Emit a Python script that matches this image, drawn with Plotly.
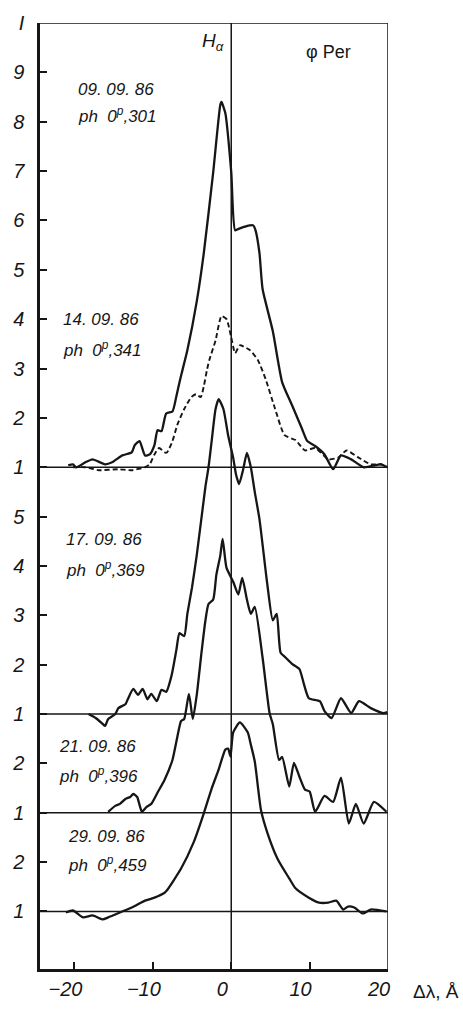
import plotly.graph_objects as go

# H-alpha profiles of phi Per; wavelength offset (A) and relative intensity I
dl_0909 = [-20.8, -20.2, -19.8, -18.6, -17.7, -16.1, -15.2, -13.9, -12.7, -12.3, -11.7, -11.0, -10.4,
           -9.8, -9.4, -8.9, -8.3, -7.5, -7.0, -6.6, -6.3, -5.6, -4.4, -3.5, -2.3, -1.4, -1.25, -0.75,
           0.0, 0.5, 1.1, 2.4, 2.8, 3.1, 3.6, 4.0, 5.3, 6.5, 7.8, 9.0, 9.7, 10.7, 11.9, 13.0, 14.0,
           15.3, 16.9, 19.1, 19.9]
i_0909 = [1.04, 1.06, 1.00, 1.10, 1.16, 1.06, 1.10, 1.24, 1.30, 1.45, 1.53, 1.24, 1.26,
          1.45, 1.75, 1.73, 2.09, 2.13, 2.44, 2.72, 2.92, 3.37, 4.36, 5.34, 6.98, 8.34, 8.40, 8.17,
          6.98, 5.80, 5.84, 5.90, 5.90, 5.80, 5.34, 4.61, 3.76, 2.72, 2.24, 1.79, 1.53, 1.43, 1.26,
          0.96, 1.24, 1.16, 1.00, 1.06, 1.00]

dl_1409 = [-20.2, -18.6, -16.9, -14.4, -12.7, -11.0, -10.4, -9.8, -9.2, -8.5, -8.2, -7.5, -6.9,
           -6.0, -5.1, -4.5, -3.9, -3.5, -3.1, -2.8, -2.0, -1.25, -0.6, 0.0, 0.5, 1.1, 2.4, 3.4,
           4.4, 5.6, 6.8, 8.2, 9.4, 10.7, 12.4, 13.7, 14.7, 16.2, 17.8, 19.1, 19.9]
i_1409 = [1.00, 1.00, 0.94, 0.96, 0.94, 1.00, 1.06, 1.26, 1.39, 1.30, 1.30, 1.53, 1.85,
          2.18, 2.42, 2.48, 2.42, 2.64, 2.97, 3.17, 3.57, 4.06, 4.00, 3.63, 3.31, 3.47, 3.37, 3.17,
          2.78, 2.18, 1.65, 1.55, 1.34, 1.39, 1.16, 1.20, 1.34, 1.20, 1.06, 1.06, 1.00]

dl_1709 = [-18.2, -17.3, -16.4, -16.1, -15.7, -14.8, -14.4, -13.5, -13.2, -12.5, -11.9, -11.3,
           -10.7, -10.2, -9.5, -8.9, -8.3, -7.6, -7.0, -6.6, -6.0, -5.6, -5.0, -4.4, -3.3, -2.9,
           -2.5, -2.0, -1.6, -1.0, -0.4, 0.25, 0.6, 1.0, 1.5, 2.0, 2.5, 3.0, 3.6, 4.6, 5.3, 5.8,
           6.3, 6.9, 7.8, 8.7, 9.3, 9.9, 11.3, 11.9, 12.8, 14.0, 15.3, 16.3, 17.8, 19.4, 19.9]
i_1709 = [1.00, 0.92, 0.80, 0.76, 0.90, 1.00, 1.12, 1.20, 1.30, 1.51, 1.39, 1.51,
          1.30, 1.41, 1.26, 1.49, 1.45, 1.79, 2.30, 2.64, 2.58, 3.03, 3.57, 4.22, 5.60, 6.00,
          6.53, 7.18, 7.38, 7.18, 6.65, 6.19, 5.86, 5.66, 5.94, 6.29, 6.00, 5.50, 4.95, 3.63, 2.90,
          3.03, 2.24, 2.15, 2.01, 1.91, 1.59, 1.32, 1.26, 1.06, 0.92, 1.32, 1.02, 1.26, 1.12, 1.02,
          1.04]

dl_2109 = [-15.7, -14.8, -14.2, -13.5, -12.9, -12.5, -12.0, -11.4, -10.8, -10.2, -9.4, -8.5,
           -7.5, -6.9, -6.4, -6.0, -5.4, -4.9, -4.4, -3.8, -3.3, -2.9, -2.3, -1.9, -1.4, -1.1,
           -0.6, 0.25, 0.9, 1.4, 2.0, 2.5, 3.0, 4.0, 4.9, 5.3, 6.1, 6.5, 7.4, 8.0, 8.7, 9.4, 10.0,
           10.7, 11.9, 13.0, 14.0, 15.0, 15.9, 16.9, 18.2, 19.8]
i_2109 = [1.02, 1.14, 1.18, 1.28, 1.32, 1.38, 1.32, 1.02, 1.12, 1.18, 1.41, 1.67,
          2.07, 2.52, 2.86, 2.90, 3.41, 2.90, 3.39, 4.24, 4.89, 5.23, 5.32, 5.82, 6.21, 6.55,
          5.96, 5.68, 5.42, 5.76, 5.32, 5.03, 5.17, 4.14, 3.01, 2.80, 2.07, 2.13, 1.53, 2.01, 1.73,
          1.47, 1.43, 1.02, 1.34, 1.22, 1.71, 0.78, 1.18, 0.78, 1.22, 1.02]

dl_2909 = [-21.1, -20.2, -18.9, -17.7, -16.4, -15.7, -14.8, -12.7, -11.0, -9.8, -8.5, -8.2,
           -6.4, -4.8, -3.5, -2.5, -1.6, -0.75, -0.4, -0.1, 0.25, 1.1, 2.1, 2.5, 3.0, 3.8, 4.6,
           5.9, 7.4, 8.2, 9.9, 11.2, 12.4, 13.4, 14.3, 14.9, 15.7, 16.8, 17.8, 19.8]
i_2909 = [0.98, 1.02, 0.88, 0.92, 0.84, 0.88, 0.94, 1.08, 1.22, 1.28, 1.38, 1.43,
          1.87, 2.40, 2.99, 3.49, 3.88, 4.28, 4.30, 4.14, 4.63, 4.83, 4.63, 4.38, 4.04, 3.05, 2.60,
          2.07, 1.67, 1.47, 1.28, 1.18, 1.18, 1.22, 1.04, 1.10, 1.08, 0.96, 1.04, 1.00]

# vertical shift of each panel (continuum I = 1 sits at shift + 1)
shift_top, shift_1709, shift_2109, shift_2909 = 9, 4, 2, 0

dates = ["09. 09. 86", "14. 09. 86", "17. 09. 86", "21. 09. 86", "29. 09. 86"]
phases = ["301", "341", "369", "396", "459"]

# left scale: stacked panels sharing one axis
y_tickvals = [1, 2, 3, 4, 5, 6, 7, 8, 9, 10, 11, 12, 13, 14, 15, 16, 17, 18, 19]
y_ticktext = ["1", "2", "1", "2", "1", "2", "3", "4", "5", "1", "2", "3", "4", "5", "6", "7", "8", "9", "I"]
x_tickvals = [-20, -10, 0, 10, 20]
x_ticktext = ["\u221220", "\u221210", "0", "10", "20"]

X0, X1 = -24.4, 20
Y0, Y1 = -0.165, 19.0
INK = "#161616"
FONT = "Liberation Sans, Arial, sans-serif"

fig = go.Figure()

def profile(dl, inten, shift, dash="solid", width=2.3):
    fig.add_trace(go.Scatter(
        x=dl, y=[v + shift for v in inten], mode="lines",
        line=dict(color=INK, width=width, dash=dash, shape="spline", smoothing=0.55),
        hoverinfo="skip"))

profile(dl_0909, i_0909, shift_top)
profile(dl_1409, i_1409, shift_top, dash="5px,3px", width=1.9)
profile(dl_1709, i_1709, shift_1709)
profile(dl_2109, i_2109, shift_2109)
profile(dl_2909, i_2909, shift_2909)

thin = dict(color=INK, width=1.5)
shapes = [
    dict(type="line", xref="x", yref="y", x0=X0, x1=X1, y0=Y1, y1=Y1, line=thin),
    dict(type="line", xref="x", yref="y", x0=X1, x1=X1, y0=Y0, y1=Y1, line=thin),
    dict(type="line", xref="x", yref="y", x0=0, x1=0, y0=Y0, y1=Y1, line=thin),
]
for s in (shift_top, shift_1709, shift_2109, shift_2909):
    shapes.append(dict(type="line", xref="x", yref="y", x0=X0, x1=X1, y0=s + 1, y1=s + 1, line=thin))

label_font = dict(family=FONT, size=17, color=INK)
annotations = []
label_pos = [(-19.8, 17.66, 17.13), (-21.7, 13.0, 12.39), (-21.4, 8.54, 7.93),
             (-22.2, 4.34, 3.76), (-21.1, 2.52, 1.97)]
for (x, ya, yb), d, p in zip(label_pos, dates, phases):
    annotations.append(dict(x=x, y=ya, xref="x", yref="y", text="<i>" + d + "</i>", showarrow=False,
                            xanchor="left", yanchor="middle", font=label_font))
    annotations.append(dict(x=x, y=yb, xref="x", yref="y",
                            text="<i>ph  0<sup>p</sup>," + p + "</i>",
                            showarrow=False, xanchor="left", yanchor="middle", font=label_font))

annotations += [
    dict(x=-2.3, y=18.62, xref="x", yref="y", text="<i>H<sub>\u03b1</sub></i>", showarrow=False,
         font=dict(family=FONT, size=19, color=INK)),
    dict(x=12.4, y=18.41, xref="x", yref="y", text="\u03c6 Per", showarrow=False,
         font=dict(family=FONT, size=18, color=INK)),
    dict(x=1.138, y=-0.024, xref="paper", yref="paper", text="\u0394\u03bb, \u00c5",
         showarrow=False, xanchor="center", yanchor="middle",
         font=dict(family=FONT, size=19, color=INK)),
]

tick_font = dict(family=FONT, size=20, color=INK)

fig.update_layout(
    width=463, height=1012,
    margin=dict(l=33, r=75, t=12, b=29),
    paper_bgcolor="white", plot_bgcolor="white",
    showlegend=False,
    shapes=shapes, annotations=annotations,
    xaxis=dict(range=[X0, X1], showgrid=False, zeroline=False, showline=True,
               linecolor=INK, linewidth=2.5, ticks="inside", ticklen=7, tickwidth=1.5,
               tickcolor=INK, tickvals=x_tickvals,
               ticktext=["<i>" + t + "</i>" for t in x_ticktext],
               tickfont=tick_font, ticklabelshift=-9, fixedrange=True),
    yaxis=dict(range=[Y0, Y1], showgrid=False, zeroline=False, showline=True,
               linecolor=INK, linewidth=2.5, ticks="inside", ticklen=7, tickwidth=1.5,
               tickcolor=INK, tickvals=y_tickvals,
               ticktext=["<i>" + t + "</i>" for t in y_ticktext],
               tickfont=tick_font, ticklabelstandoff=9, fixedrange=True),
)

fig.write_html("out.html")
